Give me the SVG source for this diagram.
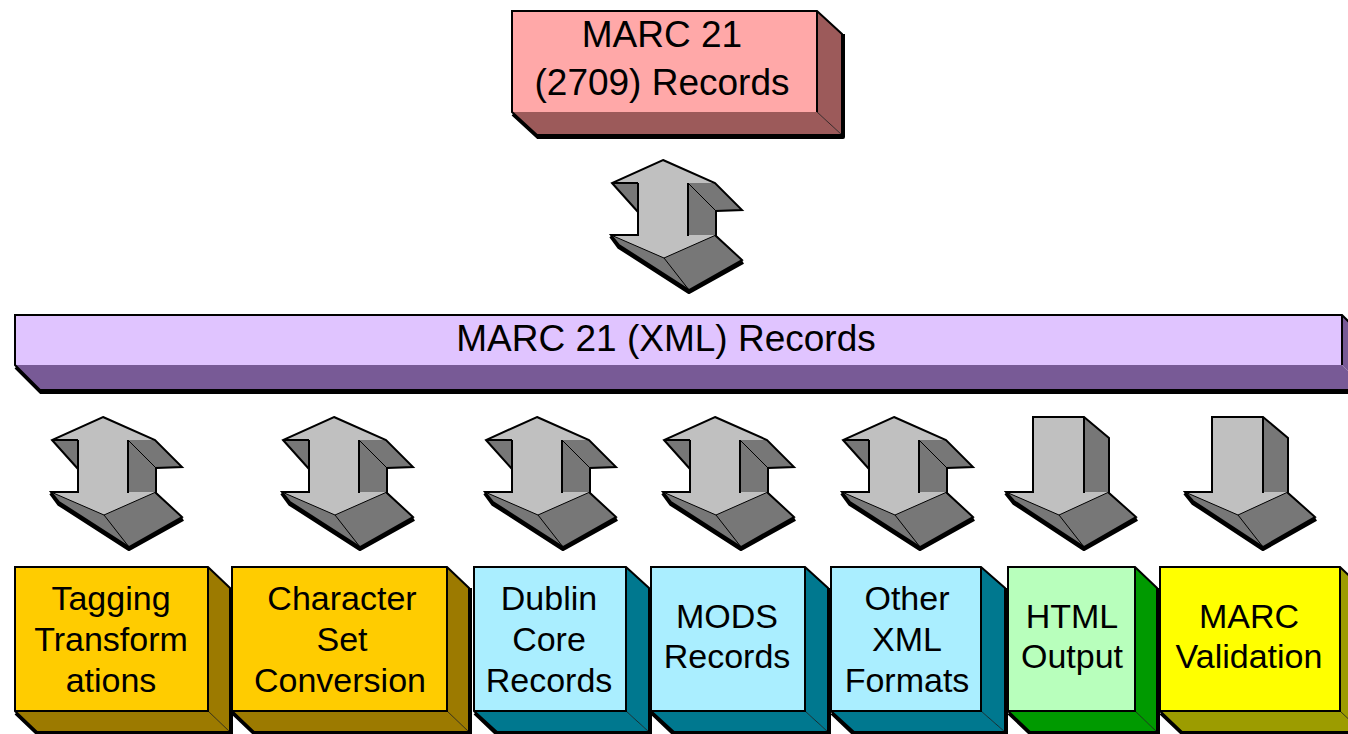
<svg xmlns="http://www.w3.org/2000/svg" xmlns:xlink="http://www.w3.org/1999/xlink" width="1348" height="734" viewBox="0 0 1348 734">
  <style>
    .ol { fill: none; stroke: #000; stroke-width: 2; stroke-linejoin: miter; }
    .sh { fill: none; stroke: #000; stroke-width: 4; stroke-linejoin: round; }
    .edge { fill: none; stroke: #000; stroke-width: 1; opacity: 0.7; }
    .ag-l { fill: #c0c0c0; }
    .ag-d { fill: #777777; }
    .thin { fill: none; stroke: #000; stroke-width: 1; }
    .lbl { font-family: "Liberation Sans", Arial, sans-serif; fill: #000; text-anchor: middle; }
    .big { font-size: 37px; }
    .sm { font-size: 34px; }
    .pink-f { fill: #ffa8a8; } .pink-d { fill: #9c5a5a; }
    .lav-f { fill: #e0c4ff; } .lav-d { fill: #785a96; }
    .org-f { fill: #ffcc00; } .org-d { fill: #9c7a00; }
    .cyn-f { fill: #aaeeff; } .cyn-d { fill: #00788f; }
    .grn-f { fill: #b8ffbc; } .grn-d { fill: #009a00; }
    .yel-f { fill: #ffff00; } .yel-d { fill: #9c9c00; }
  </style>
  <defs>
    <!-- two-way 3-D arrow, origin at the upper tip -->
    <g id="dbl">
      <polyline class="sh" points="-52,76 -44,87 26,132 80,102"/>
      <polygon class="ag-d" points="-51,23 -25,23 -25,52"/>
      <polygon class="ag-d" points="25,23 52,23 79,50 53,51 53,76 25,76"/>
      <polygon class="ag-d" points="-52,75 53,75 79,100 26,130 -44,85"/>
      <polygon class="ag-l" points="0,0 52,23 25,23 25,76 -25,76 -25,23 -51,23"/>
      <polygon class="ag-l" points="-52,75 53,75 1,98"/>
      <polyline class="thin" points="-52,75 1,98 53,75"/>
      <line class="thin" x1="25" y1="23" x2="53" y2="51"/>
      <line class="thin" x1="1" y1="98" x2="26" y2="130"/>
      <line class="ol" x1="-51" y1="23" x2="-25" y2="23"/>
      <line class="ol" x1="-25" y1="23" x2="-25" y2="52"/>
      <line class="ol" x1="25" y1="23" x2="25" y2="76"/>
      <polygon class="ol" points="0,0 52,23 79,50 53,51 53,76 79,100 26,130 -44,85 -52,75 -25,75 -25,52 -51,23"/>
    </g>
    <!-- one-way 3-D arrow, origin at the top centre of the shaft -->
    <g id="sgl">
      <polyline class="sh" points="-52,76 -44,86 26,132 79,102"/>
      <polygon class="ag-d" points="26,0 51,21 51,76 26,76"/>
      <polygon class="ag-d" points="-52,75 51,75 78,100 26,130 -44,84"/>
      <rect class="ag-l" x="-25" y="0" width="51" height="76"/>
      <polygon class="ag-l" points="-52,75 51,75 1,98"/>
      <polyline class="thin" points="-52,75 1,98 51,75"/>
      <line class="thin" x1="1" y1="98" x2="26" y2="130"/>
      <line class="ol" x1="26" y1="0" x2="26" y2="76"/>
      <polygon class="ol" points="-25,0 26,0 51,21 51,76 78,100 26,130 -44,84 -52,75 -25,75"/>
    </g>
  </defs>

  <rect x="0" y="0" width="1348" height="734" fill="#fff"/>

  <!-- source records -->
  <g id="node-marc21">
    <polyline class="sh" points="513,114 538,137 843,137 843,34"/>
    <polygon class="pink-d" points="817,11 842,34 842,135 817,112"/>
    <polygon class="pink-d" points="512,112 817,112 842,135 537,135"/>
    <rect class="pink-f" x="512" y="11" width="305" height="101"/>
    <line class="edge" x1="817" y1="112" x2="842" y2="135"/>
    <polygon class="ol" points="512,11 817,11 842,34 842,135 537,135 512,112"/>
    <line class="ol" x1="817" y1="11" x2="817" y2="112"/>
    <text class="lbl big" x="662" y="47">MARC 21</text>
    <text class="lbl big" x="662" y="95">(2709) Records</text>
  </g>

  <!-- XML bus -->
  <g id="node-marcxml">
    <polyline class="sh" points="16,367 41,392 1360,392"/>
    <polygon class="lav-d" points="1342,315 1367,340 1367,390 1342,365"/>
    <polygon class="lav-d" points="15,365 1342,365 1367,390 40,390"/>
    <rect class="lav-f" x="15" y="315" width="1327" height="50"/>
    <polygon class="ol" points="15,315 1342,315 1367,340 1367,390 40,390 15,365"/>
    <line class="ol" x1="1342" y1="315" x2="1342" y2="365"/>
    <text class="lbl big" x="666" y="351">MARC 21 (XML) Records</text>
  </g>

  <!-- transformation targets -->
  <g id="node-tagging">
    <polyline class="sh" points="16,713 38,734 231,734 231,588"/>
    <polygon class="org-d" points="208,567 230,588 230,732 208,711"/>
    <polygon class="org-d" points="15,711 208,711 230,732 37,732"/>
    <rect class="org-f" x="15" y="567" width="193" height="144"/>
    <line class="edge" x1="208" y1="711" x2="230" y2="732"/>
    <polygon class="ol" points="15,567 208,567 230,588 230,732 37,732 15,711"/>
    <polyline class="ol" points="208,567 208,711 15,711"/>
    <text class="lbl sm" x="111" y="610">Tagging</text>
    <text class="lbl sm" x="111" y="651">Transform</text>
    <text class="lbl sm" x="111" y="692">ations</text>
  </g>

  <g id="node-charset">
    <polyline class="sh" points="233,713 255,734 470,734 470,588"/>
    <polygon class="org-d" points="447,567 469,588 469,732 447,711"/>
    <polygon class="org-d" points="232,711 447,711 469,732 254,732"/>
    <rect class="org-f" x="232" y="567" width="215" height="144"/>
    <line class="edge" x1="447" y1="711" x2="469" y2="732"/>
    <polygon class="ol" points="232,567 447,567 469,588 469,732 254,732 232,711"/>
    <polyline class="ol" points="447,567 447,711 232,711"/>
    <text class="lbl sm" x="342" y="610">Character</text>
    <text class="lbl sm" x="342" y="651">Set</text>
    <text class="lbl sm" x="340" y="692">Conversion</text>
  </g>

  <g id="node-dublin">
    <polyline class="sh" points="475,713 497,734 650,734 650,588"/>
    <polygon class="cyn-d" points="626,567 649,588 649,732 626,711"/>
    <polygon class="cyn-d" points="474,711 626,711 649,732 497,732"/>
    <rect class="cyn-f" x="474" y="567" width="152" height="144"/>
    <line class="edge" x1="626" y1="711" x2="649" y2="732"/>
    <polygon class="ol" points="474,567 626,567 649,588 649,732 497,732 474,711"/>
    <polyline class="ol" points="626,567 626,711 474,711"/>
    <text class="lbl sm" x="549" y="610">Dublin</text>
    <text class="lbl sm" x="549" y="651">Core</text>
    <text class="lbl sm" x="549" y="692">Records</text>
  </g>

  <g id="node-mods">
    <polyline class="sh" points="652,713 674,734 829,734 829,588"/>
    <polygon class="cyn-d" points="805,567 828,588 828,732 805,711"/>
    <polygon class="cyn-d" points="651,711 805,711 828,732 674,732"/>
    <rect class="cyn-f" x="651" y="567" width="154" height="144"/>
    <line class="edge" x1="805" y1="711" x2="828" y2="732"/>
    <polygon class="ol" points="651,567 805,567 828,588 828,732 674,732 651,711"/>
    <polyline class="ol" points="805,567 805,711 651,711"/>
    <text class="lbl sm" x="727" y="628">MODS</text>
    <text class="lbl sm" x="727" y="668">Records</text>
  </g>

  <g id="node-otherxml">
    <polyline class="sh" points="832,713 854,734 1006,734 1006,588"/>
    <polygon class="cyn-d" points="981,567 1005,588 1005,732 981,711"/>
    <polygon class="cyn-d" points="831,711 981,711 1005,732 854,732"/>
    <rect class="cyn-f" x="831" y="567" width="150" height="144"/>
    <line class="edge" x1="981" y1="711" x2="1005" y2="732"/>
    <polygon class="ol" points="831,567 981,567 1005,588 1005,732 854,732 831,711"/>
    <polyline class="ol" points="981,567 981,711 831,711"/>
    <text class="lbl sm" x="907" y="610">Other</text>
    <text class="lbl sm" x="907" y="651">XML</text>
    <text class="lbl sm" x="907" y="692">Formats</text>
  </g>

  <g id="node-html">
    <polyline class="sh" points="1009,713 1031,734 1158,734 1158,588"/>
    <polygon class="grn-d" points="1135,567 1157,588 1157,732 1135,711"/>
    <polygon class="grn-d" points="1008,711 1135,711 1157,732 1030,732"/>
    <rect class="grn-f" x="1008" y="567" width="127" height="144"/>
    <line class="edge" x1="1135" y1="711" x2="1157" y2="732"/>
    <polygon class="ol" points="1008,567 1135,567 1157,588 1157,732 1030,732 1008,711"/>
    <polyline class="ol" points="1135,567 1135,711 1008,711"/>
    <text class="lbl sm" x="1072" y="628">HTML</text>
    <text class="lbl sm" x="1072" y="668">Output</text>
  </g>

  <g id="node-validation">
    <polyline class="sh" points="1161,713 1183,734 1363,734 1363,588"/>
    <polygon class="yel-d" points="1340,567 1362,588 1362,732 1340,711"/>
    <polygon class="yel-d" points="1160,711 1340,711 1362,732 1182,732"/>
    <rect class="yel-f" x="1160" y="567" width="180" height="144"/>
    <line class="edge" x1="1340" y1="711" x2="1362" y2="732"/>
    <polygon class="ol" points="1160,567 1340,567 1362,588 1362,732 1182,732 1160,711"/>
    <polyline class="ol" points="1340,567 1340,711 1160,711"/>
    <text class="lbl sm" x="1249" y="628">MARC</text>
    <text class="lbl sm" x="1249" y="668">Validation</text>
  </g>

  <!-- data-flow arrows -->
  <g id="connectors">
    <use xlink:href="#dbl" href="#dbl" x="663" y="160"/>
    <use xlink:href="#dbl" href="#dbl" x="103" y="417"/>
    <use xlink:href="#dbl" href="#dbl" x="334" y="417"/>
    <use xlink:href="#dbl" href="#dbl" x="537" y="417"/>
    <use xlink:href="#dbl" href="#dbl" x="715" y="417"/>
    <use xlink:href="#dbl" href="#dbl" x="894" y="417"/>
    <use xlink:href="#sgl" href="#sgl" x="1058" y="417"/>
    <use xlink:href="#sgl" href="#sgl" x="1237" y="417"/>
  </g>
</svg>
